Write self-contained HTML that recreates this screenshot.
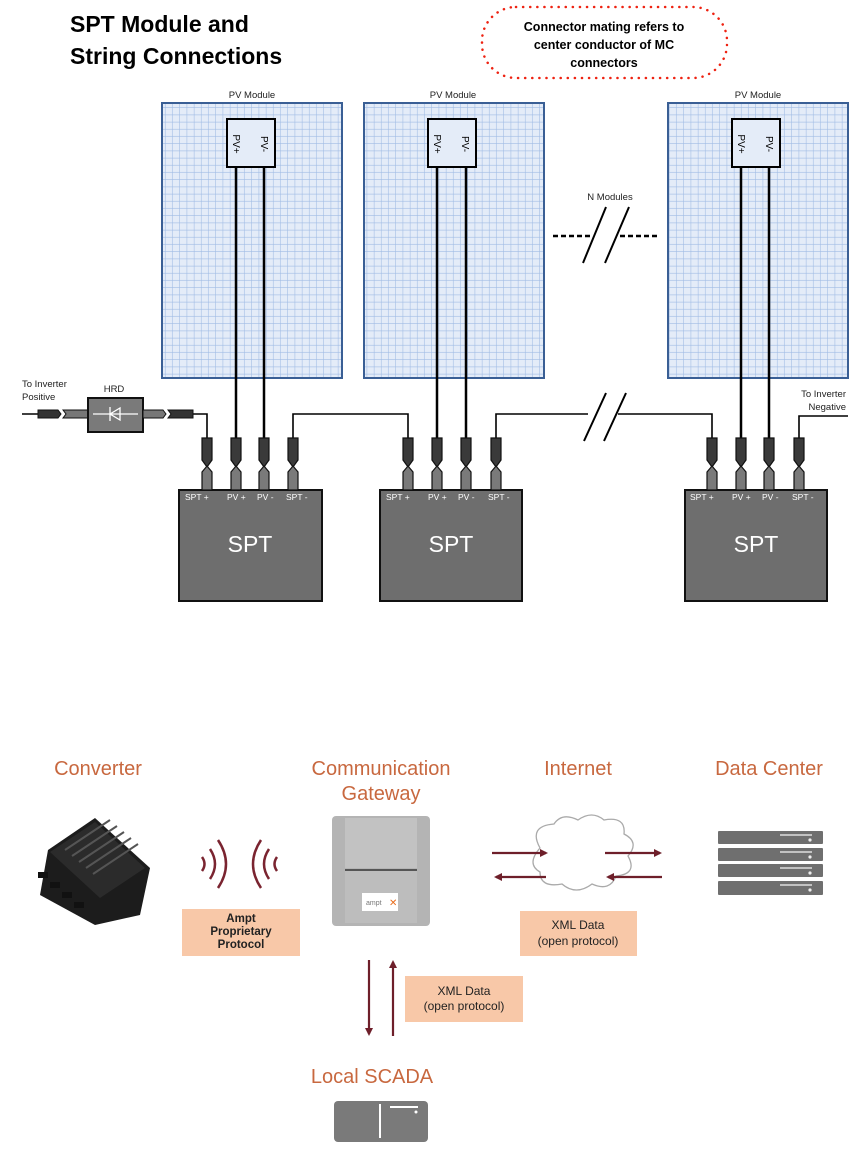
<!DOCTYPE html>
<html><head><meta charset="utf-8"><style>
html,body{margin:0;padding:0;background:#fff}
svg{display:block}
</style></head><body>
<svg width="867" height="1168" viewBox="0 0 867 1168" xmlns="http://www.w3.org/2000/svg" font-family="Liberation Sans, sans-serif">
<defs>
<pattern id="grid" width="7.2" height="7.2" patternUnits="userSpaceOnUse">
<rect width="7.2" height="7.2" fill="#e4ecf8"/>
<path d="M7.2 0V7.2M0 7.2H7.2" stroke="#9fbbe4" stroke-width="1.1" fill="none"/>
</pattern>
<g id="pin">
<path d="M-5,-52 h10 v22 l-5,7 l-5,-7 z" fill="#3a3a3a" stroke="#111" stroke-width="1.2"/>
<path d="M-5,-18 l5,-6 l5,6 v18 h-10 z" fill="#7a7a7a" stroke="#111" stroke-width="1.2"/>
</g>
<marker id="ah" markerWidth="8" markerHeight="8" refX="6" refY="4" orient="auto" markerUnits="userSpaceOnUse"><path d="M0,0 L8,4 L0,8 z" fill="#6e1f2a"/></marker>
</defs>

<!-- Title -->
<text x="70" y="32" font-size="23" font-weight="bold" fill="#000">SPT Module and</text>
<text x="70" y="64" font-size="23" font-weight="bold" fill="#000">String Connections</text>
<rect x="482" y="7" width="245" height="71" rx="34" fill="none" stroke="#e21" stroke-width="2.5" stroke-dasharray="0.1 7" stroke-linecap="round"/>
<g font-size="12.5" font-weight="bold" text-anchor="middle" fill="#000">
<text x="604" y="31">Connector mating refers to</text>
<text x="604" y="49">center conductor of MC</text>
<text x="604" y="67">connectors</text>
</g>

<!-- PV modules -->
<g font-size="9.5" fill="#222" text-anchor="middle">
<text x="252" y="98">PV Module</text>
<text x="453" y="98">PV Module</text>
<text x="758" y="98">PV Module</text>
</g>
<rect x="162" y="103" width="180" height="275" fill="url(#grid)" stroke="#3a5f95" stroke-width="2"/>
<rect x="364" y="103" width="180" height="275" fill="url(#grid)" stroke="#3a5f95" stroke-width="2"/>
<rect x="668" y="103" width="180" height="275" fill="url(#grid)" stroke="#3a5f95" stroke-width="2"/>

<!-- junction boxes -->
<g fill="#e4ecf8" stroke="#000" stroke-width="2">
<rect x="227" y="119" width="48" height="48"/>
<rect x="428" y="119" width="48" height="48"/>
<rect x="732" y="119" width="48" height="48"/>
</g>
<g font-size="10" fill="#000">
<text transform="translate(233,144) rotate(90)" text-anchor="middle">PV+</text>
<text transform="translate(261,144) rotate(90)" text-anchor="middle">PV-</text>
<text transform="translate(434,144) rotate(90)" text-anchor="middle">PV+</text>
<text transform="translate(462,144) rotate(90)" text-anchor="middle">PV-</text>
<text transform="translate(738,144) rotate(90)" text-anchor="middle">PV+</text>
<text transform="translate(766,144) rotate(90)" text-anchor="middle">PV-</text>
</g>
<!-- module wires -->
<g stroke="#000" stroke-width="2.5" fill="none">
<path d="M236 167V440M264 167V440"/>
<path d="M437 167V440M466 167V440"/>
<path d="M741 167V440M769 167V440"/>
</g>

<!-- N modules -->
<text x="610" y="200" font-size="9.5" text-anchor="middle" fill="#222">N Modules</text>
<path d="M553 236H590M620 236H657" stroke="#000" stroke-width="2.5" stroke-dasharray="5 3"/>
<path d="M583 263L606 207M605 263L629 207" stroke="#000" stroke-width="2"/>

<!-- string wiring -->
<g stroke="#000" stroke-width="1.6" fill="none">
<path d="M22 414H40"/>
<path d="M190 414H207V440"/>
<path d="M293 440V414H408V440"/>
<path d="M496 440V414H712V440"/>
<path d="M799 440V416H848"/>
</g>
<rect x="588" y="408" width="30" height="12" fill="#fff"/>
<path d="M584 441L606 393M604 441L626 393" stroke="#000" stroke-width="2"/>
<text x="22" y="387" font-size="9.5" fill="#222">To Inverter</text>
<text x="22" y="400" font-size="9.5" fill="#222">Positive</text>
<text x="846" y="397" font-size="9.5" fill="#222" text-anchor="end">To Inverter</text>
<text x="846" y="410" font-size="9.5" fill="#222" text-anchor="end">Negative</text>

<!-- HRD -->
<text x="114" y="392" font-size="9.5" fill="#222" text-anchor="middle">HRD</text>
<path d="M38 410h20l3,4l-3,4h-20z" fill="#333" stroke="#111"/>
<path d="M63 410h25v8h-25l3,-4z" fill="#777" stroke="#111"/>
<rect x="88" y="398" width="55" height="34" fill="#7a7a7a" stroke="#111" stroke-width="2"/>
<path d="M93 414h45M110 407v14M110 414l10,-6v12z" stroke="#fff" stroke-width="1.3" fill="none"/>
<path d="M143 410h20l3,4l-3,4h-20z" fill="#777" stroke="#111"/>
<path d="M168 410h25v8h-25l3,-4z" fill="#333" stroke="#111"/>

<!-- SPT boxes -->
<g fill="#6e6e6e" stroke="#111" stroke-width="2">
<rect x="179" y="490" width="143" height="111"/>
<rect x="380" y="490" width="142" height="111"/>
<rect x="685" y="490" width="142" height="111"/>
</g>
<g fill="#fff" font-size="23" text-anchor="middle">
<text x="250" y="552">SPT</text>
<text x="451" y="552">SPT</text>
<text x="756" y="552">SPT</text>
</g>
<g fill="#fff" font-size="8.5">
<text x="185" y="500">SPT +</text><text x="227" y="500">PV +</text><text x="257" y="500">PV -</text><text x="286" y="500">SPT -</text>
<text x="386" y="500">SPT +</text><text x="428" y="500">PV +</text><text x="458" y="500">PV -</text><text x="488" y="500">SPT -</text>
<text x="690" y="500">SPT +</text><text x="732" y="500">PV +</text><text x="762" y="500">PV -</text><text x="792" y="500">SPT -</text>
</g>
<use href="#pin" x="207" y="490"/><use href="#pin" x="236" y="490"/><use href="#pin" x="264" y="490"/><use href="#pin" x="293" y="490"/>
<use href="#pin" x="408" y="490"/><use href="#pin" x="437" y="490"/><use href="#pin" x="466" y="490"/><use href="#pin" x="496" y="490"/>
<use href="#pin" x="712" y="490"/><use href="#pin" x="741" y="490"/><use href="#pin" x="769" y="490"/><use href="#pin" x="799" y="490"/>

<!-- Bottom section -->
<g fill="#c8683f" font-size="20" text-anchor="middle">
<text x="98" y="775">Converter</text>
<text x="381" y="775">Communication</text>
<text x="381" y="800">Gateway</text>
<text x="578" y="775">Internet</text>
<text x="769" y="775">Data Center</text>
<text x="372" y="1083">Local SCADA</text>
</g>

<!-- converter device -->
<g>
<path d="M48 850 L95 818 L150 868 L140 915 L95 925 L40 895 Z" fill="#1c1c1c"/>
<path d="M50 852 L95 822 L145 868 L100 898 Z" fill="#2b2b2b"/>
<g stroke="#555" stroke-width="2">
<path d="M65 850L110 820M72 856L117 826M79 862L124 832M86 868L131 838M93 874L138 844"/>
</g>
<g fill="#111"><rect x="38" y="872" width="10" height="6"/><rect x="50" y="882" width="10" height="6"/><rect x="62" y="892" width="10" height="6"/><rect x="74" y="902" width="10" height="6"/></g>
</g>

<!-- waves -->
<g stroke="#7a2430" stroke-width="2.5" fill="none">
<path d="M202 857 q5 7 0 14"/>
<path d="M210 849 q10 15 0 30"/>
<path d="M218 840 q16 24 0 48"/>
<path d="M261 840 q-16 24 0 48"/>
<path d="M269 849 q-10 15 0 30"/>
<path d="M277 857 q-5 7 0 14"/>
</g>
<rect x="182" y="909" width="118" height="47" fill="#f8c8a8"/>
<g font-size="11.5" font-weight="bold" fill="#222" text-anchor="middle">
<text x="241" y="922">Ampt</text><text x="241" y="935">Proprietary</text><text x="241" y="948">Protocol</text>
</g>

<!-- gateway -->
<rect x="332" y="816" width="98" height="110" rx="4" fill="#b4b4b4"/>
<rect x="345" y="818" width="72" height="50" fill="#c2c2c2"/>
<rect x="345" y="871" width="72" height="52" fill="#bdbdbd"/>
<path d="M345 870H417" stroke="#555" stroke-width="2"/>
<rect x="362" y="893" width="36" height="18" fill="#fff"/>
<text x="366" y="905" font-size="7" fill="#777">ampt</text>
<text x="389" y="906" font-size="10" fill="#e86c1c">✕</text>

<!-- cloud -->
<path d="M540 848 q-12 -22 14 -24 q8 -12 24 -4 q14 -10 26 0 q22 -4 20 14 q16 8 4 22 q10 18 -12 20 q-6 16 -24 8 q-16 12 -30 0 q-22 4 -22 -12 q-14 -8 0 -24z" fill="#fff" stroke="#aaa" stroke-width="1.3"/>
<g stroke="#6e1f2a" stroke-width="2.2" fill="none">
<path d="M492 853H546" marker-end="url(#ah)"/>
<path d="M546 877H496" marker-end="url(#ah)"/>
<path d="M605 853H660" marker-end="url(#ah)"/>
<path d="M662 877H608" marker-end="url(#ah)"/>
</g>
<rect x="520" y="911" width="117" height="45" fill="#f8c8a8"/>
<g font-size="12" fill="#222" text-anchor="middle">
<text x="578" y="929">XML Data</text><text x="578" y="945">(open protocol)</text>
</g>

<!-- servers -->
<g fill="#6f6f6f">
<rect x="718" y="831" width="105" height="13" rx="1"/>
<rect x="718" y="848" width="105" height="13" rx="1"/>
<rect x="718" y="864" width="105" height="13" rx="1"/>
<rect x="718" y="881" width="105" height="14" rx="1"/>
</g>
<g stroke="#ddd" stroke-width="1.5"><path d="M780 835H812M780 852H812M780 868H812M780 885H812"/></g>
<g fill="#eee"><circle cx="810" cy="840" r="1.6"/><circle cx="810" cy="857" r="1.6"/><circle cx="810" cy="873" r="1.6"/><circle cx="810" cy="890" r="1.6"/></g>

<!-- vertical arrows -->
<g stroke="#6e1f2a" stroke-width="2.2" fill="none">
<path d="M369 960V1034" marker-end="url(#ah)"/>
<path d="M393 1036V962" marker-end="url(#ah)"/>
</g>
<rect x="405" y="976" width="118" height="46" fill="#f8c8a8"/>
<g font-size="12" fill="#222" text-anchor="middle">
<text x="464" y="995">XML Data</text><text x="464" y="1010">(open protocol)</text>
</g>

<!-- SCADA -->
<rect x="334" y="1101" width="94" height="41" rx="4" fill="#7a7a7a"/>
<path d="M380 1104V1138M390 1107H418" stroke="#fff" stroke-width="2"/>
<circle cx="416" cy="1112" r="1.5" fill="#fff"/>
</svg>
</body></html>
